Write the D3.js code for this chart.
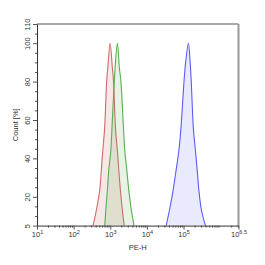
<!DOCTYPE html>
<html>
<head>
<meta charset="utf-8">
<script src="https://cdn.jsdelivr.net/npm/d3@7"></script>
<style>
  body { margin: 0; background: #fff; }
  text { font-family: "Liberation Sans", Arial, sans-serif; }
</style>
</head>
<body>
<div id="histogram"></div>
<script>
// histogram overlay, values: [PE-H, count %]
const redSeries = [
  [339, 5], [417, 13], [516, 23.5], [571, 34], [624, 44], [698, 55], [802, 81], [855, 87],
  [989, 100], [1141, 87], [1216, 81], [1397, 55], [1564, 44], [1708, 34], [1888, 23.5],
  [2141, 13], [2384, 5]
];
const greenSeries = [
  [708, 5], [754, 13], [834, 23.5], [910, 34], [1033, 44], [1107, 55], [1295, 81], [1352, 87],
  [1564, 100], [1774, 87], [1936, 81], [2307, 55], [2489, 44], [2824, 34], [3201, 23.5],
  [3773, 13], [4467, 5]
];
const blueSeries = [
  [33500, 5], [41200, 13], [52000, 23.5], [62800, 34], [74500, 44], [84400, 55], [103800, 81],
  [114000, 90], [135900, 100], [151300, 90], [161400, 81], [186400, 55], [211300, 44],
  [235400, 34], [261900, 23.5], [308400, 13], [396400, 5]
];

const xMajorExponents = ["1", "2", "3", "4", "5", "6.5"];
const yMajorTicks = [5, 20, 40, 60, 80, 100, 110];
const yMinorTicks = [10, 15, 25, 30, 35, 45, 50, 55, 65, 70, 75, 85, 90, 95, 105];

class HistogramVis {
  constructor(_parentElement) {
    this.parentElement = _parentElement;
    this.initVis();
  }

  initVis() {
    let vis = this;

    // margin conventions
    vis.margin = { top: 24, right: 26.5, bottom: 39.4, left: 37 };
    vis.width = 265 - vis.margin.left - vis.margin.right;
    vis.height = 265 - vis.margin.top - vis.margin.bottom;

    vis.svg = d3.select("#" + vis.parentElement).append("svg")
        .attr("width", 265)
        .attr("height", 265)
        .append("g")
        .attr("transform", "translate(" + vis.margin.left + "," + vis.margin.top + ")");

    vis.x = d3.scaleLog()
        .domain([10, Math.pow(10, 6.5)])
        .range([0, vis.width]);

    vis.y = d3.scaleLinear()
        .domain([5, 110])
        .range([vis.height, 0]);

    vis.updateVis();
  }

  updateVis() {
    let vis = this;

    let area = d3.area()
        .x(d => vis.x(d[0]))
        .y0(vis.y(5))
        .y1(d => Math.min(vis.y(d[1]), vis.height))
        .curve(d3.curveCatmullRom.alpha(0.5));
    let line = d3.line()
        .x(d => vis.x(d[0]))
        .y(d => vis.y(d[1]))
        .curve(d3.curveCatmullRom.alpha(0.5));

    let series = [
      { data: redSeries, fill: "rgba(190,100,90,0.15)", stroke: "#d06a6a" },
      { data: greenSeries, fill: "rgba(100,165,80,0.15)", stroke: "#56b052" },
      { data: blueSeries, fill: "rgba(90,90,255,0.13)", stroke: "#5c5cf5" }
    ];

    series.forEach(function(s) {
      vis.svg.append("path")
          .datum(s.data)
          .attr("d", area)
          .attr("fill", s.fill);
      vis.svg.append("path")
          .datum(s.data)
          .attr("d", line)
          .attr("fill", "none")
          .attr("stroke", s.stroke)
          .attr("stroke-width", 1.1);
    });

    // frame: top and right
    vis.svg.append("line")
        .attr("x1", 0).attr("x2", vis.width)
        .attr("y1", 0).attr("y2", 0)
        .attr("stroke", "#555").attr("stroke-width", 1);
    vis.svg.append("line")
        .attr("x1", vis.width).attr("x2", vis.width)
        .attr("y1", 0).attr("y2", vis.height)
        .attr("stroke", "#999").attr("stroke-width", 2);

    // x axis minor ticks
    let xMinor = [];
    for (let e = 1; e <= 6; e++) {
      for (let k = 2; k <= 9; k++) {
        if (k * Math.pow(10, e) <= Math.pow(10, 6.5)) xMinor.push(k * Math.pow(10, e));
      }
    }
    let xMajor = xMajorExponents.map(e => Math.pow(10, +e));

    vis.svg.append("g")
        .attr("class", "axis minor")
        .attr("transform", "translate(0," + vis.height + ")")
        .call(d3.axisBottom(vis.x).tickValues(xMinor).tickFormat("").tickSize(2).tickSizeOuter(0))
        .call(g => g.select(".domain").remove());

    let xAxis = vis.svg.append("g")
        .attr("class", "axis")
        .attr("transform", "translate(0," + vis.height + ")")
        .call(d3.axisBottom(vis.x).tickValues(xMajor).tickSize(4).tickSizeOuter(0).tickPadding(2));

    xAxis.selectAll(".tick text")
        .text(null)
        .attr("font-size", "7.5px")
        .attr("fill", "#333")
        .each(function(d, i) {
          let t = d3.select(this);
          t.append("tspan").text("10");
          t.append("tspan")
              .attr("dy", "-0.45em")
              .attr("font-size", "5.5px")
              .text(xMajorExponents[i]);
        });

    // y axis
    vis.svg.append("g")
        .attr("class", "axis minor")
        .call(d3.axisLeft(vis.y).tickValues(yMinorTicks).tickFormat("").tickSize(2).tickSizeOuter(0))
        .call(g => g.select(".domain").remove());

    let yAxis = vis.svg.append("g")
        .attr("class", "axis")
        .call(d3.axisLeft(vis.y).tickValues(yMajorTicks).tickSize(4).tickSizeOuter(0));

    yAxis.selectAll(".tick text")
        .attr("transform", "rotate(-90)")
        .attr("x", 0)
        .attr("y", -7)
        .attr("dy", 0)
        .attr("text-anchor", "middle")
        .attr("font-size", "7.5px")
        .attr("fill", "#333");

    vis.svg.selectAll(".axis .domain").attr("stroke", "#333");
    vis.svg.selectAll(".axis .tick line").attr("stroke", "#555");

    // axis titles
    vis.svg.append("text")
        .attr("x", vis.width / 2)
        .attr("y", vis.height + 24.5)
        .attr("text-anchor", "middle")
        .attr("font-size", "7.5px")
        .attr("fill", "#333")
        .text("PE-H");

    vis.svg.append("text")
        .attr("transform", `translate(-19.5, ${vis.height / 2}) rotate(-90)`)
        .attr("text-anchor", "middle")
        .attr("font-size", "7.5px")
        .attr("fill", "#333")
        .text("Count [%]");
  }
}

new HistogramVis("histogram");
</script>
</body>
</html>
